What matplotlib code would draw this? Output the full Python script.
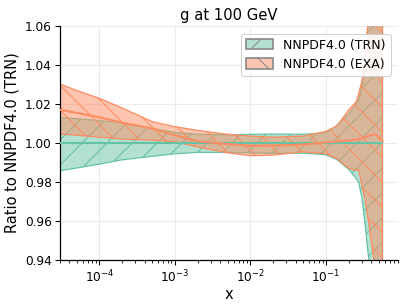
import numpy as np
import matplotlib
matplotlib.use("Agg")
import matplotlib.pyplot as plt
import matplotlib.patches as mpatches
from matplotlib.colors import to_rgba

# values
x = [3e-5, 5e-5, 1e-4, 2e-4, 5e-4, 1e-3, 2e-3, 5e-3, 1e-2, 2e-2, 5e-2, 0.1,
     0.14, 0.2, 0.25, 0.27, 0.3, 0.33, 0.36, 0.4, 0.45, 0.5, 0.56]

trn_cv = [1.0] * len(x)
trn_up = [1.0132, 1.0125, 1.0115, 1.0104, 1.0075, 1.0055, 1.0045, 1.0042, 1.0045,
          1.0046, 1.0045, 1.0052, 1.009, 1.015, 1.020, 1.022, 1.029, 1.040, 1.062,
          1.08, 1.10, 1.12, 1.15]
trn_lo = [0.9858, 0.9872, 0.9892, 0.9914, 0.9932, 0.9945, 0.9952, 0.9952, 0.995,
          0.9947, 0.9948, 0.994, 0.9915, 0.9865, 0.982, 0.980, 0.972, 0.958, 0.944,
          0.93, 0.91, 0.89, 0.86]

exa_cv = [1.017, 1.0155, 1.0132, 1.0105, 1.0074, 1.004, 1.0009, 0.9995, 0.9986,
          0.9987, 0.9992, 1.0004, 1.0008, 1.0012, 1.0018, 1.002, 1.0025, 1.003,
          1.0035, 1.0042, 1.0045, 1.003, 1.0009]
exa_up = [1.0303, 1.027, 1.0229, 1.018, 1.011, 1.0084, 1.0065, 1.0045, 1.0036,
          1.003, 1.0036, 1.006, 1.0088, 1.017, 1.021, 1.025, 1.032, 1.0435, 1.062,
          1.09, 1.12, 1.15, 1.2]
exa_lo = [1.0046, 1.004, 1.003, 1.002, 1.0015, 1.0007, 0.998, 0.995, 0.9935,
          0.9938, 0.9955, 0.9945, 0.992, 0.987, 0.986, 0.9865, 0.978, 0.971, 0.9615,
          0.949, 0.935, 0.91, 0.88]

labels = ["NNPDF4.0 (TRN)", "NNPDF4.0 (EXA)"]
colors = ["#66c2a5", "#fc8d62"]
hatches = ["//", "\\\\"]

plt.rcParams["hatch.linewidth"] = 0.5

dpi = 150
fig = plt.figure(figsize=(407 / dpi, 306 / dpi), dpi=dpi)
ax = fig.add_axes([0.147, 0.150, 0.831, 0.765])

series = [(trn_cv, trn_up, trn_lo), (exa_cv, exa_up, exa_lo)]
handles = []
for (cv, up, lo), c, h, lab in zip(series, colors, hatches, labels):
    ax.fill_between(x, lo, up, facecolor=to_rgba(c, 0.5), edgecolor=c,
                    hatch=h, linewidth=0.6, zorder=2)
    ax.plot(x, cv, color=c, lw=1.0, zorder=4)
    handles.append(mpatches.Patch(facecolor=to_rgba(c, 0.5), edgecolor="#888888",
                                  hatch=h[0], linewidth=0.8, label=lab))

ax.set_xscale("log")
ax.set_xlim(3e-5, 0.9)
ax.set_ylim(0.94, 1.06)
ax.set_yticks(np.arange(0.94, 1.061, 0.02))
ax.yaxis.set_major_formatter(matplotlib.ticker.FormatStrFormatter("%.2f"))
ax.grid(True, which="major", color="#ebebeb", lw=0.5, zorder=0)
ax.tick_params(which="major", length=2.4, width=0.5, labelsize=5.8, pad=1.5)
ax.tick_params(which="minor", length=1.4, width=0.4)
for s in ["top", "right"]:
    ax.spines[s].set_visible(False)
for s in ["left", "bottom"]:
    ax.spines[s].set_linewidth(0.6)

ax.set_title("g at 100 GeV", fontsize=7.1, pad=3)
ax.set_xlabel("x", fontsize=7.0, labelpad=1)
ax.set_ylabel("Ratio to NNPDF4.0 (TRN)", fontsize=7.0, labelpad=2.5)
leg = ax.legend(handles=handles, loc="upper right", fontsize=6.0,
                framealpha=0.9, edgecolor="#cccccc", fancybox=True,
                handlelength=2.2, handleheight=0.9, borderaxespad=0.6)
leg.get_frame().set_linewidth(0.5)

fig.savefig("out.png", dpi=dpi)
